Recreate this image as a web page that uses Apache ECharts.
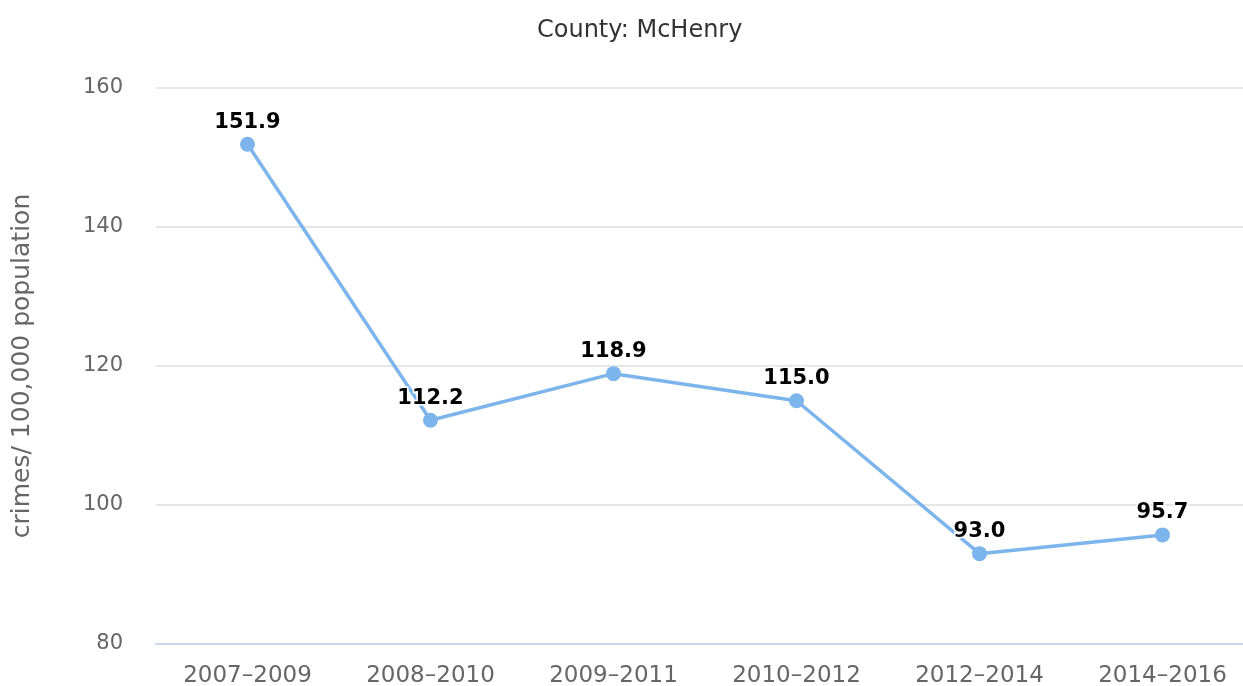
<!DOCTYPE html>
<html>
<head>
<meta charset="utf-8">
<script src="https://cdn.jsdelivr.net/npm/echarts@6/dist/echarts.min.js"></script>
<style>
  html, body { margin: 0; padding: 0; background: #fff; }
  #chart { width: 1243px; height: 686px; }
</style>
</head>
<body>
<div id="chart"></div>
<script>
const periods = ['2007–2009', '2008–2010', '2009–2011', '2010–2012', '2012–2014', '2014–2016']
const crimeRates = [151.9, 112.2, 118.9, 115.0, 93.0, 95.7]
const countyName = 'McHenry'

const chart = echarts.init(document.getElementById('chart'))
const option = {
  animation: false,
  textStyle: { fontFamily: 'DejaVu Sans' },
  title: {
    text: 'County: ' + countyName,
    left: 532,
    top: 14,
    textStyle: { color: '#333', fontSize: 24, fontWeight: 'normal' }
  },
  grid: {
    left: 156,
    top: 88,
    width: 1098,
    height: 556,
    containLabel: false,
    outerBoundsMode: 'none'
  },
  xAxis: {
    type: 'category',
    data: periods,
    boundaryGap: true,
    axisLine: { lineStyle: { color: '#ccd6eb', width: 2 } },
    axisTick: { show: false },
    axisLabel: { color: '#666', fontSize: 23, margin: 21 }
  },
  yAxis: {
    type: 'value',
    min: 80,
    max: 160,
    interval: 20,
    name: 'crimes/ 100,000 population',
    nameLocation: 'middle',
    nameGap: 121,
    nameTextStyle: { color: '#666', fontSize: 25 },
    axisLine: { show: false },
    axisTick: { show: false },
    axisLabel: { color: '#666', fontSize: 21, margin: 33 },
    splitLine: { lineStyle: { color: '#e6e6e6', width: 2 } }
  },
  series: [{
    type: 'line',
    data: crimeRates,
    symbol: 'circle',
    symbolSize: 15,
    lineStyle: { color: '#7cb5ec', width: 3.5 },
    itemStyle: { color: '#7cb5ec' },
    label: {
      show: true,
      position: 'top',
      distance: 4,
      color: '#000',
      fontSize: 21,
      fontWeight: 'bold',
      textBorderColor: '#fff',
      textBorderWidth: 3,
      formatter: function (p) { return p.value.toFixed(1) }
    }
  }]
}
chart.setOption(option)
</script>
</body>
</html>
